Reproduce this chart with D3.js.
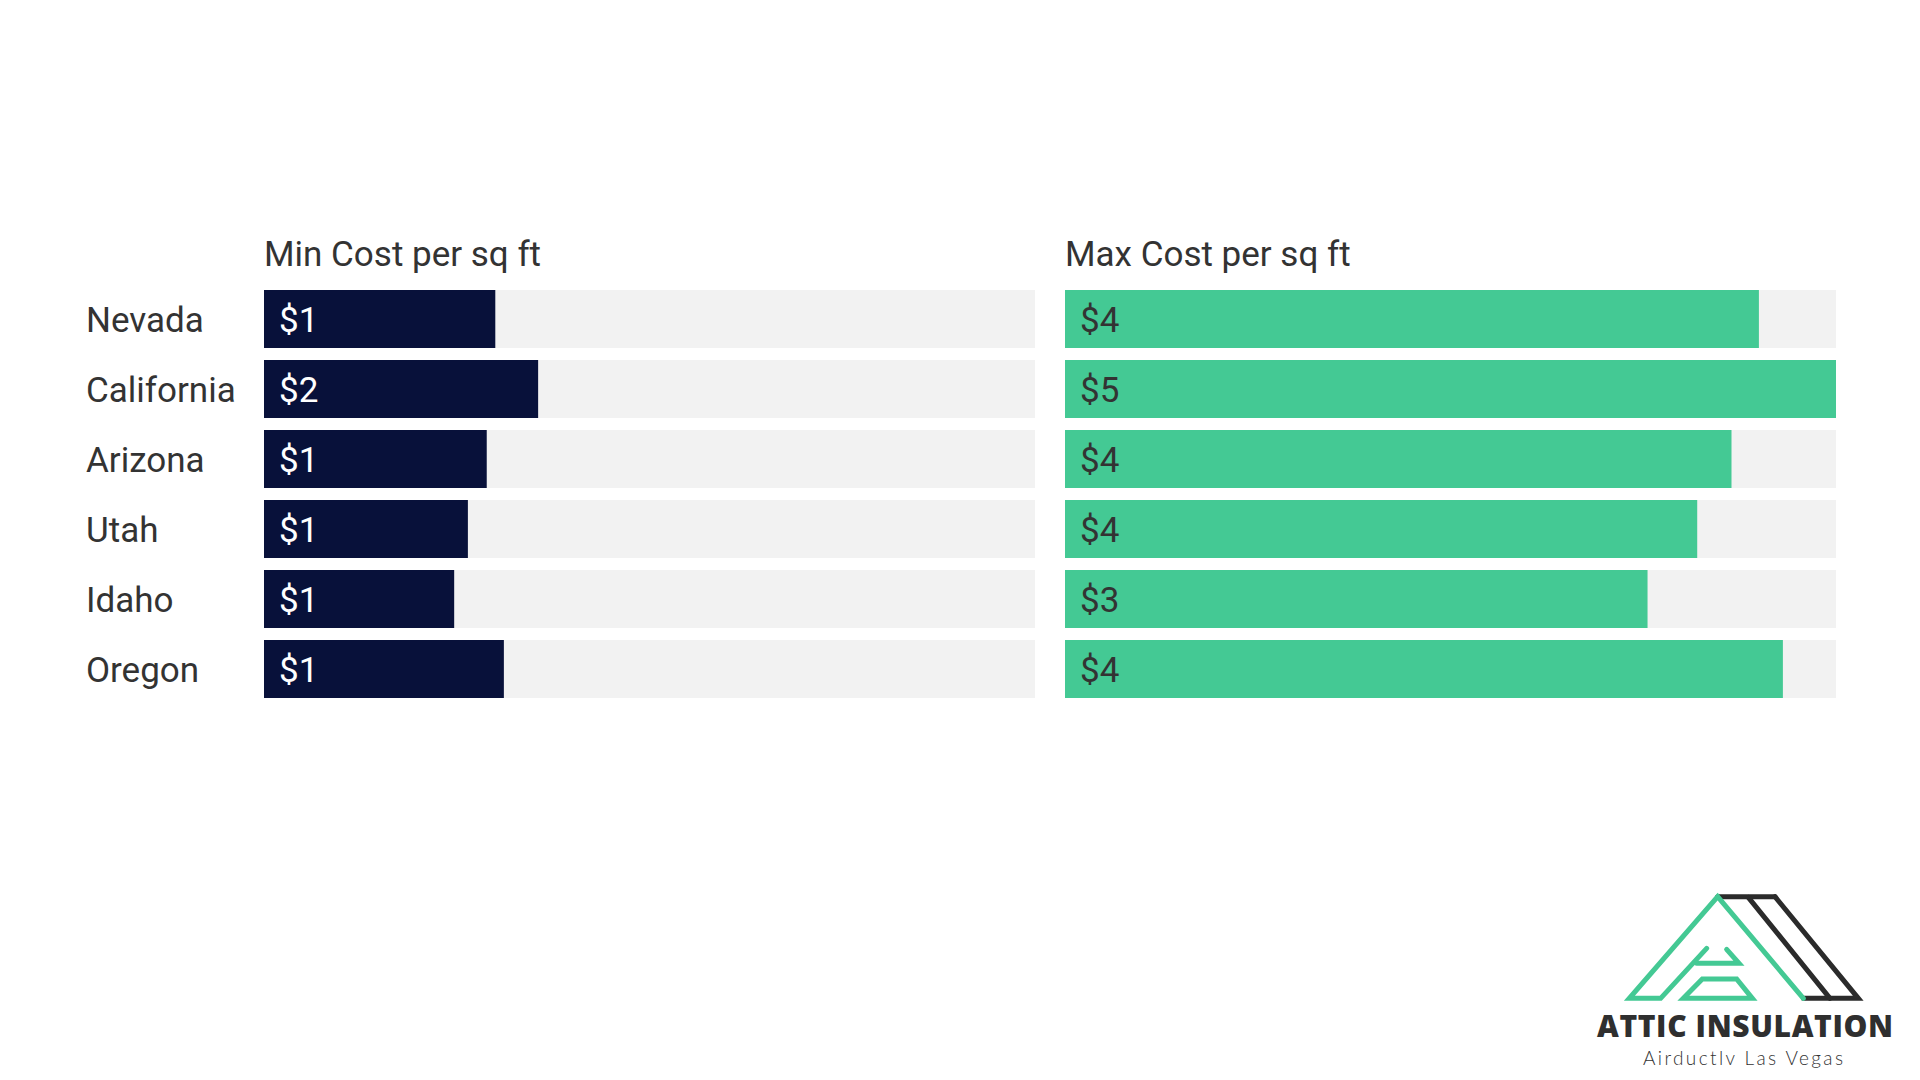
<!DOCTYPE html>
<html>
<head>
<meta charset="utf-8">
<script src="https://cdn.jsdelivr.net/npm/d3@7"></script>
<style>
  html, body { margin: 0; padding: 0; background: #fff; }
  svg { display: block; }
</style>
</head>
<body>
<svg id="chart" width="1920" height="1080"></svg>
<script>
const states = ["Nevada", "California", "Arizona", "Utah", "Idaho", "Oregon"];
const minCost = [1.35, 1.60, 1.30, 1.19, 1.11, 1.40];
const maxCost = [4.05, 4.50, 3.89, 3.69, 3.40, 4.19];
const headers = ["Min Cost per sq ft", "Max Cost per sq ft"];
const scaleMax = 4.5;

const svg = d3.select("#chart");
const font = "Roboto, 'Noto Sans', sans-serif";

const y = d3.scaleBand().domain(states).range([290, 698]).paddingInner(12 / 70).paddingOuter(0);
const x = d3.scaleLinear().domain([0, scaleMax]).range([0, 771]);

const columns = [
  { x0: 264, values: minCost, color: "#08113A", text: "#ffffff", header: headers[0] },
  { x0: 1065, values: maxCost, color: "#44C994", text: "#333333", header: headers[1] }
];

// row labels
svg.append("g").selectAll("text").data(states).join("text")
  .attr("x", 86)
  .attr("y", d => y(d) + y.bandwidth() / 2 + 12.5)
  .attr("font-family", font).attr("font-size", 35).attr("fill", "#333")
  .text(d => d);

columns.forEach(col => {
  const g = svg.append("g").attr("transform", `translate(${col.x0},0)`);
  g.append("text").attr("x", 0).attr("y", 266)
    .attr("font-family", font).attr("font-size", 35).attr("fill", "#333")
    .text(col.header);
  const rows = g.selectAll("g.row").data(states.map((s, i) => ({ s, v: col.values[i] })))
    .join("g").attr("class", "row");
  rows.append("rect")
    .attr("x", x(0)).attr("y", d => y(d.s))
    .attr("width", x(scaleMax) - x(0)).attr("height", y.bandwidth())
    .attr("fill", "#F2F2F2");
  rows.append("rect")
    .attr("x", x(0)).attr("y", d => y(d.s))
    .attr("width", d => x(d.v) - x(0)).attr("height", y.bandwidth())
    .attr("fill", col.color);
  rows.append("text")
    .attr("x", 15).attr("y", d => y(d.s) + y.bandwidth() / 2 + 12.5)
    .attr("font-family", font).attr("font-size", 35).attr("fill", col.text)
    .text(d => "$" + Math.round(d.v));
});

// logo
const L = svg.append("g").attr("transform", "translate(1590,890) scale(0.3333)");
const green = "#44C994", dark = "#2b2b2b";
const sw = 15;
function pl(pts, color, closed) {
  L.append("path")
    .attr("d", "M" + pts.map(p => p.join(",")).join("L") + (closed ? "Z" : ""))
    .attr("fill", "none").attr("stroke", color).attr("stroke-width", sw)
    .attr("stroke-linejoin", "miter").attr("stroke-linecap", "round");
}
pl([[555, 20], [805, 325], [640, 325]], dark, false);
pl([[383, 20], [555, 20]], dark, false);
pl([[475, 22], [720, 325]], dark, false);
pl([[350, 175], [212, 325], [118, 325], [383, 20], [640, 325]], green, false);
pl([[320, 220], [447, 220], [410, 178]], green, false);
pl([[337, 267], [440, 267], [487, 325], [280, 325]], green, true);

svg.append("text").attr("x", 1597).attr("y", 1037)
  .attr("font-family", "'Open Sans', Lato, sans-serif").attr("font-weight", 800)
  .attr("font-size", 30).attr("fill", "#2f2f2f")
  .attr("textLength", 296).attr("lengthAdjust", "spacing")
  .text("ATTIC INSULATION");
svg.append("text").attr("x", 1643).attr("y", 1065)
  .attr("font-family", "Lato, 'Open Sans', sans-serif").attr("font-weight", 300)
  .attr("font-size", 19).attr("fill", "#333")
  .attr("textLength", 200).attr("lengthAdjust", "spacing")
  .text("Airductlv Las Vegas");
</script>
</body>
</html>
